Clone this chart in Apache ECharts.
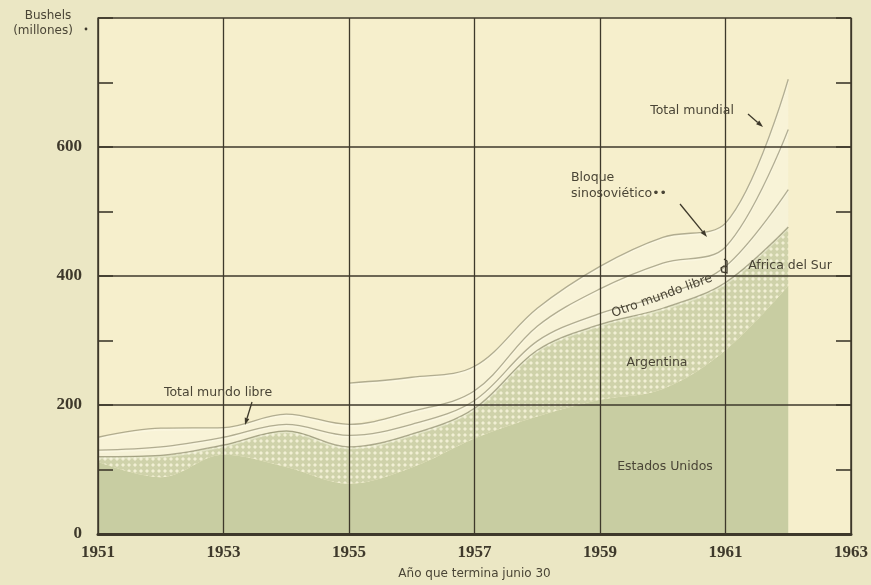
<!DOCTYPE html>
<html>
<head>
<meta charset="utf-8">
<script src="https://cdn.jsdelivr.net/npm/echarts@6/dist/echarts.min.js"></script>
<style>
  html, body { margin: 0; padding: 0; background: #ebe7c4; }
  #chart { width: 871px; height: 585px; }
</style>
</head>
<body>
<div id="chart"></div>
<script>
// Exportaciones de maíz, año que termina el 30 de junio (millones de bushels)
const years = ['1951', '1952', '1953', '1954', '1955', '1956', '1957', '1958', '1959', '1960', '1961', '1962', '1963'];
const estadosUnidos = [112, 88, 123, 104, 78, 103, 148, 182, 208, 225, 285, 385];
const argentina = [8, 34, 15, 56, 57, 52, 47, 103, 117, 125, 105, 91];
const africaDelSur = [10, 13, 12, 10, 18, 15, 12, 14, 17, 20, 25, 58];
const otroMundoLibre = [20, 29, 15, 16, 17, 20, 15, 23, 38, 50, 30, 93];
const bloqueSinosovietico = ['-', '-', '-', '-', 64, 53, 38, 28, 35, 40, 37, 78];
const yTickLabels = [0, 200, 400, 600];

const ink = '#3e392b';
const textInk = '#4a4536';
const serif = '"Liberation Serif", "DejaVu Serif", serif';
const sans = '"DejaVu Sans", "Noto Sans", sans-serif';

// diagonal cross-hatch used for the Argentina band
function hatchPattern() {
  const c = document.createElement('canvas');
  c.width = 6; c.height = 6;
  const g = c.getContext('2d');
  g.fillStyle = '#cfd2aa';
  g.fillRect(0, 0, 6, 6);
  g.fillStyle = '#f2efd4';
  g.beginPath();
  g.moveTo(3, 1); g.lineTo(5, 3); g.lineTo(3, 5); g.lineTo(1, 3);
  g.closePath();
  g.fill();
  return c;
}

// soft embossed boundary between bands
const ridge = {
  color: 'rgba(120,116,90,0.55)',
  width: 1.3,
  shadowColor: 'rgba(255,253,238,0.95)',
  shadowBlur: 1,
  shadowOffsetY: 1.6
};

function band(name, data, area) {
  return {
    name, type: 'line', stack: 'total', data,
    smooth: 0.35, symbol: 'none',
    lineStyle: ridge,
    areaStyle: area,
    z: 1
  };
}

function arrow(x1, y1, x2, y2) {
  const a = Math.atan2(y2 - y1, x2 - x1), L = 7, W = 2.4;
  const bx = x2 - L * Math.cos(a), by = y2 - L * Math.sin(a);
  return [
    { type: 'line', shape: { x1, y1, x2: bx, y2: by }, style: { stroke: ink, lineWidth: 1.3 }, z: 10 },
    { type: 'polygon', z: 10, shape: { points: [[x2, y2], [bx + W * Math.sin(a), by - W * Math.cos(a)], [bx - W * Math.sin(a), by + W * Math.cos(a)]] }, style: { fill: ink } }
  ];
}

function label(text, x, y, extra) {
  return Object.assign({
    type: 'text', x, y, z: 10,
    style: { text, fill: textInk, font: '12.5px ' + sans, textAlign: 'center', textVerticalAlign: 'middle' }
  }, extra || {});
}

const chart = echarts.init(document.getElementById('chart'), null, { renderer: 'canvas' });

chart.setOption({
  backgroundColor: '#ebe7c4',
  animation: false,
  grid: { left: 98, right: 20, top: 18, bottom: 47, show: true, backgroundColor: '#f6efcc', borderWidth: 0, z: 0 },
  xAxis: [{
    type: 'category', data: years, boundaryGap: false, z: 4,
    axisLine: { show: true, lineStyle: { color: ink, width: 3 } },
    axisTick: { show: false },
    axisLabel: { interval: 1, color: ink, fontFamily: serif, fontSize: 17, fontWeight: 'bold', margin: 10 },
    splitLine: { show: true, interval: 1, lineStyle: { color: ink, width: 1.3 } },
    name: 'Año que termina junio 30', nameLocation: 'middle', nameGap: 34,
    nameTextStyle: { color: textInk, fontFamily: sans, fontSize: 12 }
  }, {
    type: 'category', data: years, boundaryGap: false, position: 'top', z: 4,
    axisLine: { show: true, lineStyle: { color: ink, width: 1.5 } },
    axisTick: { show: false }, axisLabel: { show: false }, splitLine: { show: false }
  }],
  yAxis: [{
    type: 'value', min: 0, max: 800, interval: 200, z: 4,
    axisLine: { show: true, lineStyle: { color: ink, width: 1.5 } },
    axisTick: { show: false },
    axisLabel: {
      color: ink, fontFamily: serif, fontSize: 17, fontWeight: 'bold', margin: 16,
      formatter: v => (yTickLabels.includes(v) ? String(v) : '')
    },
    splitLine: { show: true, lineStyle: { color: ink, width: 1.5 } }
  }, {
    type: 'value', min: 0, max: 800, interval: 100, position: 'right', z: 4,
    axisLine: { show: true, lineStyle: { color: ink, width: 1.5 } },
    axisTick: { show: true, inside: true, length: 15, lineStyle: { color: ink, width: 1.6 } },
    axisLabel: { show: false }, splitLine: { show: false }
  }, {
    type: 'value', min: 0, max: 800, interval: 100, position: 'left', z: 4,
    axisLine: { show: false },
    axisTick: { show: true, inside: true, length: 15, lineStyle: { color: ink, width: 1.6 } },
    axisLabel: { show: false }, splitLine: { show: false }
  }],
  series: [
    Object.assign(band('Estados Unidos', estadosUnidos, { color: '#c8cda2', opacity: 1 }), { lineStyle: { width: 0 } }),
    band('Argentina', argentina, { color: { image: hatchPattern(), repeat: 'repeat' }, opacity: 1 }),
    band('Africa del Sur', africaDelSur, { color: 'rgba(246,244,222,0.9)' }),
    band('Otro mundo libre', otroMundoLibre, { color: 'rgba(250,247,226,0.7)' }),
    band('Bloque sinosoviético', bloqueSinosovietico, { color: 'rgba(251,248,230,0.6)' })
  ],
  graphic: [
    label('Bushels', 48, 16, { style: { text: 'Bushels', fill: textInk, font: '12px ' + sans, textAlign: 'center', textVerticalAlign: 'middle' } }),
    label('(millones)', 43, 31, { style: { text: '(millones)', fill: textInk, font: '12px ' + sans, textAlign: 'center', textVerticalAlign: 'middle' } }),
    { type: 'circle', shape: { cx: 86, cy: 29, r: 1.4 }, style: { fill: ink } },
    label('Total mundial', 692, 111),
    ...arrow(748, 114, 763, 127),
    label('Bloque', 571, 178, { style: { text: 'Bloque', fill: textInk, font: '12.5px ' + sans, textAlign: 'left', textVerticalAlign: 'middle' } }),
    label('sinosoviético••', 571, 194, { style: { text: 'sinosoviético••', fill: textInk, font: '12.5px ' + sans, textAlign: 'left', textVerticalAlign: 'middle' } }),
    ...arrow(680, 204, 707, 237),
    label('Otro mundo libre', 662, 296, { rotation: 20 * Math.PI / 180 }),
    { type: 'polyline', z: 10, shape: { points: [[724, 259], [727, 261], [727, 273], [722, 272], [721, 268], [724, 266], [727, 267]] }, style: { stroke: ink, lineWidth: 1.3, fill: null } },
    label('Africa del Sur', 790, 266),
    label('Argentina', 657, 363),
    label('Estados Unidos', 665, 467),
    label('Total mundo libre', 218, 393),
    ...arrow(252, 402, 245, 425)
  ]
});
</script>
</body>
</html>
